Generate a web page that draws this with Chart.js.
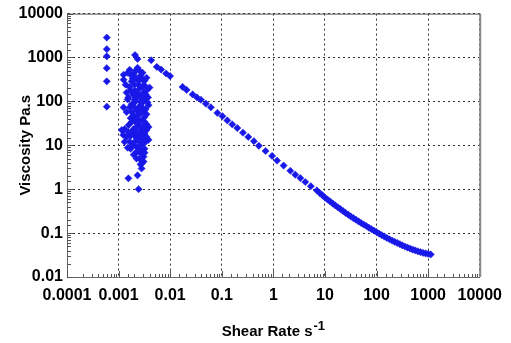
<!DOCTYPE html>
<html>
<head>
<meta charset="utf-8">
<script src="https://cdn.jsdelivr.net/npm/chart.js@4.4.1/dist/chart.umd.min.js"></script>
<style>
  html, body { margin: 0; padding: 0; background: #fff; }
  canvas { display: block; }
</style>
</head>
<body>
<canvas id="chart" width="511" height="343"></canvas>
<script>
// ---- data (shear rate 1/s, viscosity Pa.s) ----

// scattered low shear-rate points (first column + noisy cluster)
const lowShear = [
  0.00059, 0.00059, 0.00059, 0.00059, 0.00059, 0.00059,
  0.00208, 0.00233, 0.00164, 0.00233, 0.00125, 0.00196, 0.00267, 0.00125, 0.00179, 0.00244,
  0.00318, 0.00397, 0.00143, 0.00204, 0.00305, 0.00223, 0.00318, 0.00179, 0.00267, 0.00380,
  0.00125, 0.00223, 0.00305, 0.00196, 0.00318, 0.00255, 0.00179, 0.00348, 0.00131, 0.00223,
  0.00380, 0.00179, 0.00279, 0.00143, 0.00204, 0.00318, 0.00164, 0.00255, 0.00380, 0.00223,
  0.00318, 0.00196, 0.00279, 0.00255, 0.00279, 0.00279, 0.00155, 0.00233, 0.00244, 0.00123,
  0.00131, 0.00115, 0.00213, 0.00291, 0.00164, 0.00255, 0.00348, 0.00191, 0.00267, 0.00372,
  0.00213, 0.00291, 0.00164, 0.00244, 0.00333, 0.00179, 0.00267, 0.00223, 0.00291, 0.00204,
  0.00244, 0.00305, 0.00196, 0.00244, 0.00155, 0.00223, 0.00291, 0.00191, 0.00255, 0.00223,
  0.00305, 0.00150, 0.00333, 0.00348, 0.00155, 0.00318, 0.00171, 0.00255,
  0.00150, 0.00213, 0.00291, 0.00348, 0.00187, 0.00244, 0.00137, 0.00204, 0.00291, 0.00171,
  0.00233, 0.00333, 0.00150, 0.00204, 0.00267, 0.00364, 0.00195, 0.00291, 0.00143, 0.00244,
  0.00348, 0.00171, 0.00213, 0.00318, 0.00157, 0.00267, 0.00204, 0.00318, 0.00171, 0.00267,
  0.00348, 0.00204, 0.00279, 0.00171, 0.00244, 0.00318, 0.00223, 0.00267, 0.00305
];
const lowVisc = [
  2840, 1550, 1064, 572, 286, 76,
  1138, 925, 524, 581, 405, 420, 385, 312, 285, 241,
  230, 206, 159, 177, 159, 123, 111, 86, 82, 82,
  73, 63, 57, 48, 44, 37, 34, 30, 23.5, 26,
  26, 20.1, 22.3, 15.5, 17.2, 18.1, 12.0, 12.0, 13.3, 9.25,
  8.34, 6.12, 6.6, 4.98, 3.84, 2.96, 1.77, 2.07, 1.0, 17.2,
  12.0, 22.3, 346, 312, 212, 196, 177, 144, 129, 123,
  100, 95, 73, 70, 66, 57, 54, 44, 37, 35.5,
  30, 27, 23.5, 19, 20.1, 14.7, 13.3, 10.3, 7.9, 7.14,
  5.52, 8.8, 12.0, 22.3, 123, 295, 405, 500,
  449, 498, 449, 346, 329, 297, 241, 241, 217, 177,
  151, 144, 111, 111, 100, 95, 77, 70, 57, 51,
  51, 41.5, 37, 34, 28.9, 26, 21.2, 20.1, 16.3, 16.3,
  15.5, 12.0, 10.3, 8.34, 7.14, 6.78, 4.98, 3.65, 4.26
];

// flow curve
const flowShear = [
  0.00429, 0.0055, 0.00668, 0.00834, 0.00995,
  0.0174, 0.0208, 0.0272, 0.033, 0.0394, 0.0492, 0.0614, 0.0822, 0.103, 0.128,
  0.160, 0.200, 0.257, 0.326, 0.419, 0.523, 0.705, 0.944, 1.18, 1.58,
  2.13, 2.66, 3.33, 4.15, 5.32, 6.95,
  7.94, 8.91, 10.0, 11.2, 12.6, 14.1, 15.8, 17.8, 20.0, 22.4,
  25.1, 28.2, 31.6, 35.5, 39.8, 44.7, 50.1, 56.2, 63.1, 70.8,
  79.4, 89.1, 100, 112, 126, 141, 158, 178, 200, 224,
  251, 282, 316, 355, 398, 447, 501, 562, 631, 708,
  794, 891, 1000, 1122
];
const flowVisc = [
  865, 612, 532, 432, 378,
  214, 183, 144, 123, 109, 88.7, 73.3, 54.6, 46.0, 36.8,
  29.9, 24.7, 19.4, 15.5, 12.4, 9.75, 7.41, 5.72, 4.48, 3.46,
  2.63, 2.14, 1.79, 1.46, 1.17, 0.936,
  0.817, 0.728, 0.646, 0.582, 0.525, 0.473, 0.427, 0.386, 0.351, 0.318,
  0.288, 0.263, 0.240, 0.220, 0.202, 0.185, 0.170, 0.157, 0.145, 0.133,
  0.123, 0.114, 0.105, 0.0971, 0.0902, 0.0836, 0.0776, 0.0724, 0.0676, 0.0634,
  0.0596, 0.0558, 0.0525, 0.0495, 0.0468, 0.0444, 0.0422, 0.0403, 0.0385, 0.0369,
  0.0355, 0.0344, 0.0335, 0.0326
];

const xTickLabels = ["0.0001", "0.001", "0.01", "0.1", "1", "10", "100", "1000", "10000"];
const yTickLabels = ["0.01", "0.1", "1", "10", "100", "1000", "10000"];
const xTitle = "Shear Rate s";
const xTitleSup = "-1";
const yTitle = "Viscosity Pa.s";

// ---- helpers ----
function decadeLabel(list, v) {
  return list.find((s) => Math.abs(Math.log10(+s) - Math.log10(v)) < 1e-6);
}
function isDecade(v) {
  const l = Math.log10(v);
  return Math.abs(l - Math.round(l)) < 1e-6;
}

const points = [];
lowShear.forEach((x, i) => points.push({ x, y: lowVisc[i] }));
flowShear.forEach((x, i) => points.push({ x, y: flowVisc[i] }));

const MARK = "#1818e8";
const FONT = "'Liberation Sans', Arial, sans-serif";

// inner minor ticks, top/right frame, axis titles
const frame = {
  id: "frame",
  beforeDatasetsDraw(chart) {
    const { ctx, chartArea: a, scales } = chart;
    ctx.save();
    ctx.strokeStyle = "#555";
    ctx.lineWidth = 1;
    ctx.beginPath();
    scales.x.ticks.forEach((t) => {
      const px = Math.round(scales.x.getPixelForValue(t.value)) + 0.5;
      const len = isDecade(t.value) ? 6 : 3;
      ctx.moveTo(px, a.bottom);
      ctx.lineTo(px, a.bottom - len);
    });
    scales.y.ticks.forEach((t) => {
      const py = Math.round(scales.y.getPixelForValue(t.value)) + 0.5;
      const len = isDecade(t.value) ? 6 : 4;
      ctx.moveTo(a.left, py);
      ctx.lineTo(a.left + len, py);
    });
    ctx.stroke();
    ctx.fillStyle = "#555";
    ctx.fillRect(a.left, a.top, a.right - a.left, 1);
    ctx.fillStyle = "#8a8a8a";
    ctx.fillRect(a.right - 0.5, a.top, 2, a.bottom - a.top);
    ctx.restore();
  },
  afterDraw(chart) {
    const { ctx, chartArea: a } = chart;
    ctx.save();
    ctx.fillStyle = "#000";
    // x title with superscript
    ctx.font = "bold 15px " + FONT;
    const w1 = ctx.measureText(xTitle).width;
    ctx.font = "bold 13px " + FONT;
    const w2 = ctx.measureText(xTitleSup).width;
    const sx = (a.left + a.right) / 2 - (w1 + w2 + 1) / 2;
    ctx.textBaseline = "alphabetic";
    ctx.textAlign = "left";
    ctx.font = "bold 15px " + FONT;
    ctx.fillText(xTitle, sx, 336);
    ctx.font = "bold 13px " + FONT;
    ctx.fillText(xTitleSup, sx + w1 + 1, 330);
    // y title
    ctx.translate(26, (a.top + a.bottom) / 2);
    ctx.rotate(-Math.PI / 2);
    ctx.font = "bold 15px " + FONT;
    ctx.textAlign = "center";
    ctx.textBaseline = "middle";
    ctx.fillText(yTitle, 0, 0);
    ctx.restore();
  }
};

function gridColor(ctx) {
  return ctx.tick && isDecade(ctx.tick.value) ? "#333" : "rgba(0,0,0,0)";
}

new Chart(document.getElementById("chart").getContext("2d"), {
  type: "scatter",
  data: {
    datasets: [{
      data: points,
      pointStyle: "rectRot",
      pointRadius: 3.6,
      pointBorderWidth: 0.5,
      backgroundColor: MARK,
      borderColor: MARK
    }]
  },
  options: {
    responsive: false,
    animation: false,
    events: [],
    layout: { padding: { left: 0, top: 10, right: 29, bottom: 0 } },
    plugins: { legend: { display: false }, tooltip: { enabled: false } },
    scales: {
      x: {
        type: "logarithmic",
        min: 0.0001, max: 10000,
        afterFit: (s) => { s.height = 66; },
        grid: { color: gridColor, drawTicks: false, lineWidth: 1 },
        border: { display: true, color: "#666", width: 1, dash: [2, 3] },
        ticks: {
          autoSkip: false, maxRotation: 0, padding: 9,
          color: "#000", font: { family: FONT, size: 16, weight: "bold" },
          callback: (v) => decadeLabel(xTickLabels, v) || ""
        }
      },
      y: {
        type: "logarithmic",
        min: 0.01, max: 10000,
        afterFit: (s) => { s.width = 67; },
        grid: { color: gridColor, drawTicks: false, lineWidth: 1 },
        border: { display: true, color: "#666", width: 1, dash: [2, 3] },
        ticks: {
          autoSkip: false, padding: 4,
          color: "#000", font: { family: FONT, size: 16, weight: "bold" },
          callback: (v) => decadeLabel(yTickLabels, v) || ""
        }
      }
    }
  },
  plugins: [frame]
});
</script>
</body>
</html>
